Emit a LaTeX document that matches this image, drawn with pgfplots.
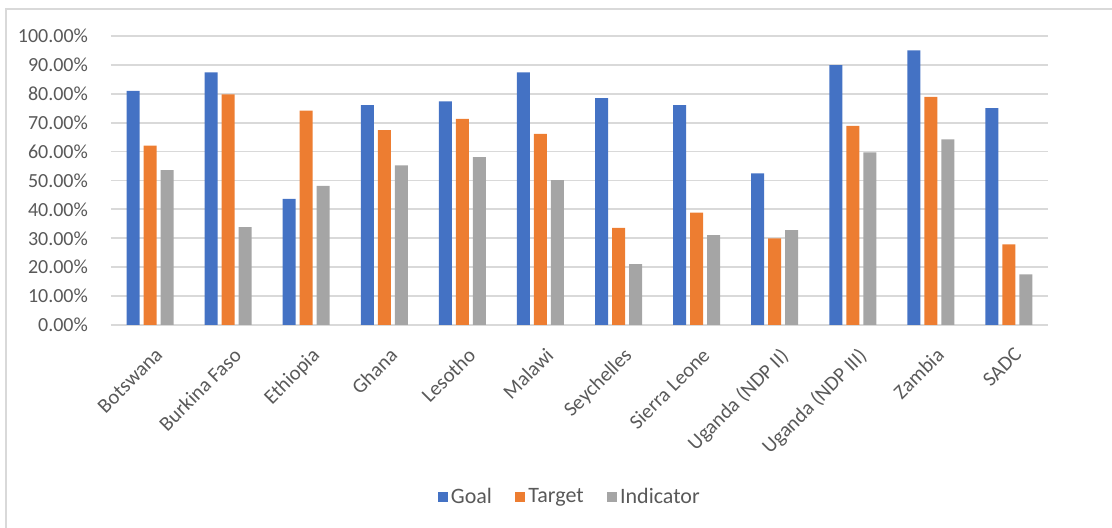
\documentclass[border=0pt]{standalone}
\usepackage{fontspec}
\setmainfont{Carlito}
\usepackage{pgfplots}
\pgfplotsset{compat=1.18}
\definecolor{cgoal}{HTML}{4472C4}
\definecolor{ctarget}{HTML}{ED7D31}
\definecolor{cind}{HTML}{A5A5A5}
\definecolor{ctext}{HTML}{595959}
\definecolor{cgrid}{HTML}{D9D9D9}
\pgfplotstableread{
x goal target indicator
0 81.0 62.1 53.6
1 87.4 79.8 33.9
2 43.6 74.2 48.1
3 76.1 67.4 55.2
4 77.4 71.3 58.1
5 87.4 66.1 50.1
6 78.5 33.6 21.1
7 76.1 38.9 31.1
8 52.5 30.0 32.8
9 89.9 68.9 59.7
10 95.0 78.9 64.2
11 75.0 27.9 17.5
}\datatable
\begin{document}
\begin{tikzpicture}[x=1pt,y=1pt]
\path[use as bounding box] (0,0) rectangle (556,264);
\draw[cgrid,line width=0.8pt] (3,0) -- (3,259.5) -- (556,259.5);
\begin{axis}[
 at={(55.5pt,101.5pt)}, anchor=south west,
 scale only axis, width=468.5pt, height=144.5pt,
 ybar=2pt, bar width=6.5pt,
 xmin=-0.5, xmax=11.5, ymin=0, ymax=100,
 xtick=data,
 xticklabels={Botswana,Burkina Faso,Ethiopia,Ghana,Lesotho,Malawi,Seychelles,Sierra Leone,Uganda (NDP II),Uganda (NDP III),Zambia,SADC},
 ytick={0,10,...,100},
 yticklabels={0.00\%,10.00\%,20.00\%,30.00\%,40.00\%,50.00\%,60.00\%,70.00\%,80.00\%,90.00\%,100.00\%},
 ymajorgrids, grid style={cgrid, line width=0.9pt},
 axis line style={draw=none},
 major tick length=0pt,
 tick label style={font=\fontsize{10}{12}\selectfont, text=ctext},
 yticklabel style={anchor=east, xshift=-8pt},
 xticklabel style={rotate=45, anchor=north east, inner sep=1pt, xshift=-5pt, yshift=-8pt, font=\fontsize{10.3}{12}\selectfont},
 legend style={at={(0.49,-0.595)}, anchor=center, draw=none, fill=none,
   legend columns=3, font=\fontsize{11}{12}\selectfont, text=ctext,
   /tikz/every even column/.append style={column sep=10pt},
   nodes={inner sep=1.5pt}},
 legend image code/.code={\fill[#1] (0pt,-2.6pt) rectangle (5.2pt,2.6pt);},
]
\addplot[fill=cgoal, draw=none] table[x=x,y=goal]{\datatable};
\addplot[fill=ctarget, draw=none] table[x=x,y=target]{\datatable};
\addplot[fill=cind, draw=none] table[x=x,y=indicator]{\datatable};
\legend{Goal,Target,Indicator}
\end{axis}
\end{tikzpicture}
\end{document}
